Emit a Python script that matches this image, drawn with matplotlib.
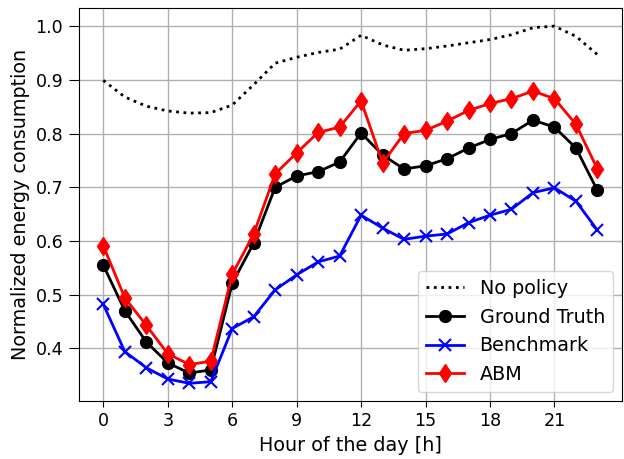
import matplotlib
matplotlib.use("Agg")
import matplotlib.pyplot as plt

# Hora del dia
horas = list(range(24))

# Valores
sinPolitica = [0.899, 0.868, 0.851, 0.842, 0.838, 0.839, 0.853, 0.891, 0.931, 0.942, 0.951, 0.957,
               0.983, 0.965, 0.955, 0.958, 0.963, 0.969, 0.975, 0.984, 0.997, 1.000, 0.981, 0.947]
groundTruth = [0.555, 0.470, 0.412, 0.373, 0.354, 0.360, 0.521, 0.596, 0.700, 0.721, 0.729, 0.747,
               0.801, 0.760, 0.734, 0.740, 0.753, 0.773, 0.789, 0.800, 0.825, 0.812, 0.773, 0.694]
benchmark = [0.482, 0.394, 0.364, 0.343, 0.335, 0.338, 0.437, 0.459, 0.509, 0.537, 0.561, 0.572,
             0.648, 0.624, 0.603, 0.609, 0.613, 0.634, 0.648, 0.659, 0.690, 0.699, 0.674, 0.620]
abm = [0.591, 0.494, 0.443, 0.390, 0.370, 0.376, 0.538, 0.613, 0.725, 0.764, 0.802, 0.812,
       0.861, 0.745, 0.800, 0.806, 0.823, 0.843, 0.856, 0.865, 0.879, 0.865, 0.817, 0.734]

plt.rcParams['font.size'] = 13.8

fig, ax = plt.subplots(figsize=(6.24, 4.59), dpi=100)
fig.subplots_adjust(left=0.126, right=0.997, top=0.982, bottom=0.126)

ax.plot(horas, sinPolitica, ':', color='black', linewidth=2, label='No policy')
ax.plot(horas, groundTruth, '-o', color='black', linewidth=2, markersize=8.5, label='Ground Truth')
ax.plot(horas, benchmark, '-x', color='blue', linewidth=2, markersize=9, markeredgewidth=1.5, label='Benchmark')
ax.plot(horas, abm, '-d', color='red', linewidth=2, markersize=9.5, label='ABM')

ax.set_xticks(range(0, 24, 3))
ax.tick_params(labelsize=12.6)
ax.tick_params(axis='y', length=7.5)
ax.tick_params(axis='x', length=4.3)
ax.set_xlabel('Hour of the day [h]')
ax.set_ylabel('Normalized energy consumption')
ax.grid(True, color='#b0b0b0', linewidth=1)
ax.legend(loc='lower right')

plt.savefig('out.png', format='png', dpi=100)
